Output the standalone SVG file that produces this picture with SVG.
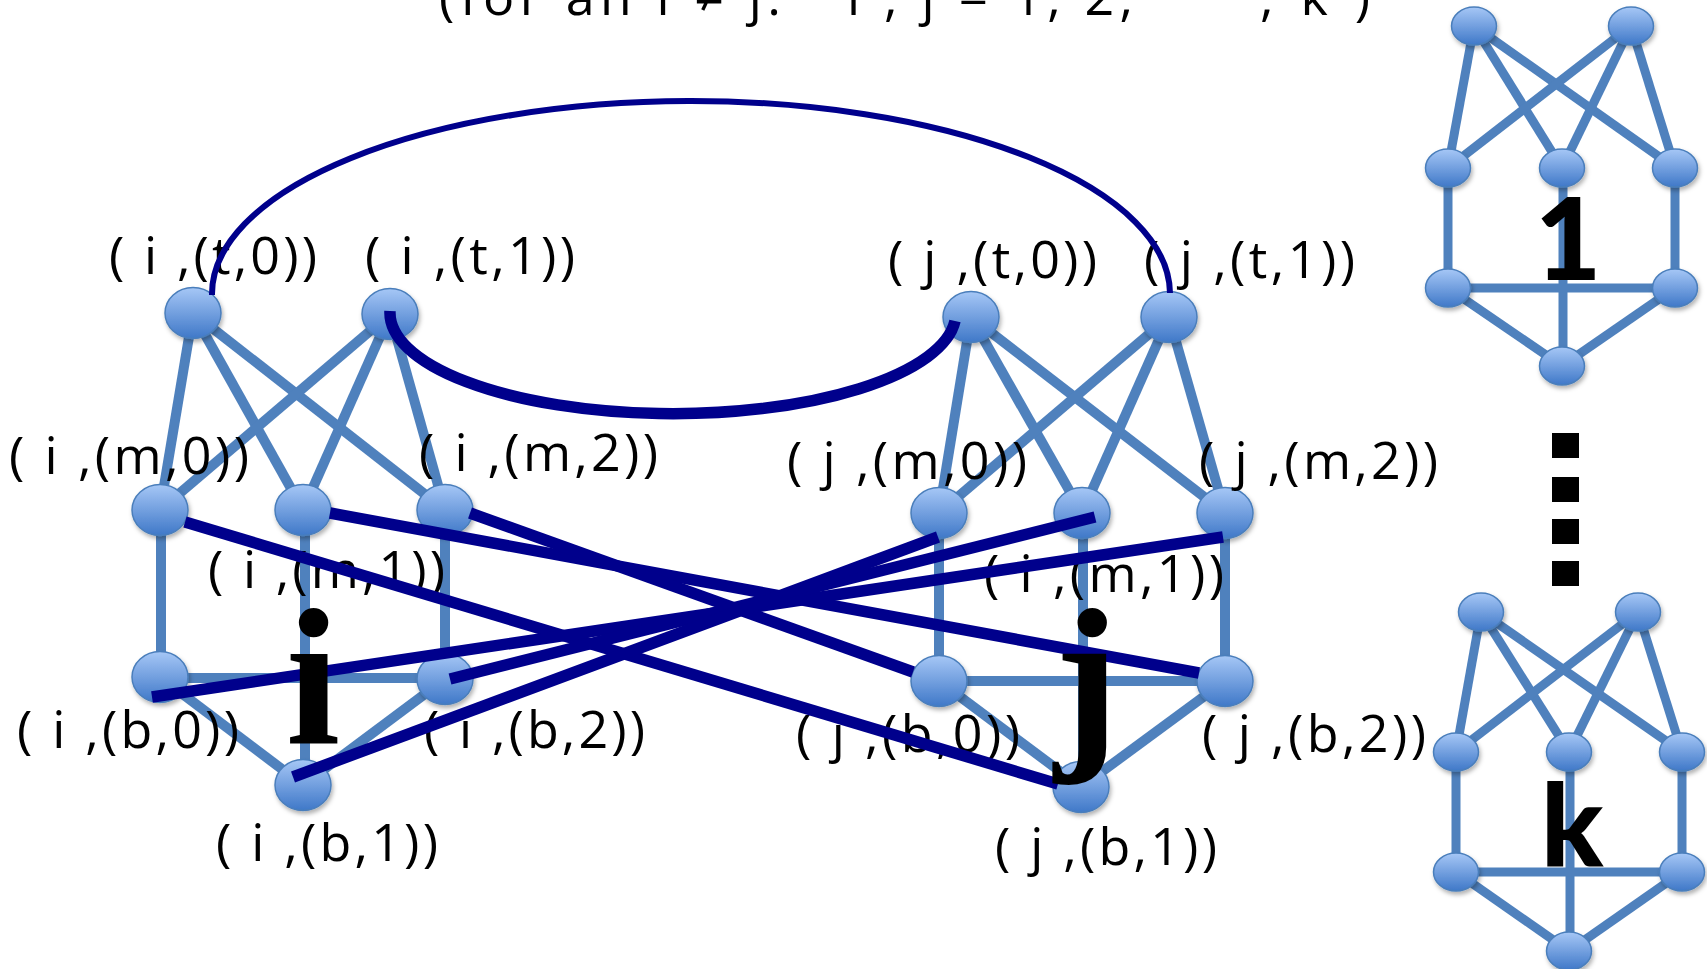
<svg xmlns="http://www.w3.org/2000/svg" width="1707" height="969" viewBox="0 0 1707 969">
<defs>
<linearGradient id="ng" x1="0" y1="0" x2="0" y2="1">
<stop offset="0" stop-color="#A6C7F6"/>
<stop offset="1" stop-color="#3F78C8"/>
</linearGradient>
<filter id="sh" x="-30%" y="-30%" width="160%" height="170%">
<feDropShadow dx="1.5" dy="3" stdDeviation="2" flood-color="#000" flood-opacity="0.3"/>
</filter>
</defs>
<style>
.e{stroke:#4F81BD;stroke-width:10;fill:none}
.es{stroke:#4F81BD;stroke-width:9;fill:none}
.n{fill:url(#ng);stroke:#4A7EBB;stroke-width:1.5;filter:url(#sh)}
.lbl{font-family:"Open Sans","Liberation Sans",sans-serif;font-size:52px;fill:#000}
.ttl{font-family:"Open Sans","DejaVu Sans",sans-serif;font-size:52px;fill:#000}
.d{stroke:#00008C;fill:none;stroke-width:11.5}
.dt{stroke:#00008C;fill:none;stroke-width:6}
.big{font-family:"Liberation Serif",serif;font-weight:bold;font-size:196px;fill:#000}
.bigs{font-family:Lato,"Liberation Sans",sans-serif;font-weight:900;font-size:115px;fill:#000}
</style>
<rect width="1707" height="969" fill="#fff"/>

<g id="title" class="ttl">
<text x="439" y="15" textLength="342">(for all i ≠ j:</text>
<text x="847" y="15" textLength="286">i , j = 1, 2,</text>
<text x="1168" y="2">⋯</text>
<text x="1260" y="15" textLength="110">, k )</text>
</g>

<g id="edges-internal">
<g id="edges-i" class="e">
<line x1="193" y1="313" x2="160" y2="510"/>
<line x1="193" y1="313" x2="303" y2="510"/>
<line x1="193" y1="313" x2="445" y2="510"/>
<line x1="390" y1="314" x2="160" y2="510"/>
<line x1="390" y1="314" x2="303" y2="510"/>
<line x1="390" y1="314" x2="445" y2="510"/>
<line x1="161" y1="510" x2="161" y2="677"/>
<line x1="305" y1="510" x2="305" y2="785"/>
<line x1="445" y1="510" x2="445" y2="679"/>
<line x1="160" y1="678" x2="445" y2="678"/>
<line x1="160" y1="677" x2="303" y2="785"/>
<line x1="445" y1="679" x2="303" y2="785"/>
</g>
<g id="edges-j" class="e">
<line x1="971" y1="317" x2="939" y2="513"/>
<line x1="971" y1="317" x2="1082" y2="513"/>
<line x1="971" y1="317" x2="1225" y2="513"/>
<line x1="1169" y1="317" x2="939" y2="513"/>
<line x1="1169" y1="317" x2="1082" y2="513"/>
<line x1="1169" y1="317" x2="1225" y2="513"/>
<line x1="939" y1="513" x2="939" y2="681"/>
<line x1="1083" y1="513" x2="1083" y2="787"/>
<line x1="1225" y1="513" x2="1225" y2="681"/>
<line x1="939" y1="681" x2="1225" y2="681"/>
<line x1="939" y1="681" x2="1081" y2="787"/>
<line x1="1225" y1="681" x2="1081" y2="787"/>
</g>
<g id="edges-1" class="es">
<line x1="1474" y1="26" x2="1448" y2="168"/>
<line x1="1474" y1="26" x2="1562" y2="168"/>
<line x1="1474" y1="26" x2="1675" y2="168"/>
<line x1="1631" y1="26" x2="1448" y2="168"/>
<line x1="1631" y1="26" x2="1562" y2="168"/>
<line x1="1631" y1="26" x2="1675" y2="168"/>
<line x1="1448" y1="168" x2="1448" y2="288"/>
<line x1="1563" y1="168" x2="1563" y2="366"/>
<line x1="1675" y1="168" x2="1675" y2="288"/>
<line x1="1448" y1="288" x2="1675" y2="288"/>
<line x1="1448" y1="288" x2="1562" y2="366"/>
<line x1="1675" y1="288" x2="1562" y2="366"/>
</g>
<g id="edges-k" class="es">
<line x1="1481" y1="612" x2="1456" y2="752"/>
<line x1="1481" y1="612" x2="1569" y2="752"/>
<line x1="1481" y1="612" x2="1682" y2="752"/>
<line x1="1638" y1="612" x2="1456" y2="752"/>
<line x1="1638" y1="612" x2="1569" y2="752"/>
<line x1="1638" y1="612" x2="1682" y2="752"/>
<line x1="1456" y1="752" x2="1456" y2="872"/>
<line x1="1570" y1="752" x2="1570" y2="951"/>
<line x1="1682" y1="752" x2="1682" y2="872"/>
<line x1="1456" y1="872" x2="1682" y2="872"/>
<line x1="1456" y1="872" x2="1569" y2="951"/>
<line x1="1682" y1="872" x2="1569" y2="951"/>
</g>
</g>

<g id="i_t0"><ellipse class="n" cx="193" cy="313" rx="28" ry="25.5"/><text class="lbl" x="109" y="274" textLength="208">( i ,(t,0))</text></g>
<g id="i_t1"><ellipse class="n" cx="390" cy="314" rx="28" ry="25.5"/><text class="lbl" x="365" y="274" textLength="210">( i ,(t,1))</text></g>
<g id="i_m0"><ellipse class="n" cx="160" cy="510" rx="28" ry="25.5"/><text class="lbl" x="9" y="474" textLength="240">( i ,(m,0))</text></g>
<g id="i_m1"><ellipse class="n" cx="303" cy="510" rx="28" ry="25.5"/><text class="lbl" x="208" y="588" textLength="237">( i ,(m,1))</text></g>
<g id="i_m2"><ellipse class="n" cx="445" cy="510" rx="28" ry="25.5"/><text class="lbl" x="419" y="471" textLength="239">( i ,(m,2))</text></g>
<g id="i_b0"><ellipse class="n" cx="160" cy="677" rx="28" ry="25.5"/><text class="lbl" x="17" y="748" textLength="222">( i ,(b,0))</text></g>
<g id="i_b2"><ellipse class="n" cx="445" cy="679" rx="28" ry="25.5"/><text class="lbl" x="424" y="748" textLength="221">( i ,(b,2))</text></g>
<g id="i_b1"><ellipse class="n" cx="303" cy="785" rx="28" ry="25.5"/><text class="lbl" x="216" y="861" textLength="222">( i ,(b,1))</text></g>

<g id="j_t0"><ellipse class="n" cx="971" cy="317" rx="28" ry="25.5"/><text class="lbl" x="888" y="278" textLength="209">( j ,(t,0))</text></g>
<g id="j_t1"><ellipse class="n" cx="1169" cy="317" rx="28" ry="25.5"/><text class="lbl" x="1144" y="278" textLength="211">( j ,(t,1))</text></g>
<g id="j_m0"><ellipse class="n" cx="939" cy="513" rx="28" ry="25.5"/><text class="lbl" x="787" y="479" textLength="240">( j ,(m,0))</text></g>
<g id="j_m1"><ellipse class="n" cx="1082" cy="513" rx="28" ry="25.5"/><text class="lbl" x="984" y="592" textLength="240">( i ,(m,1))</text></g>
<g id="j_m2"><ellipse class="n" cx="1225" cy="513" rx="28" ry="25.5"/><text class="lbl" x="1199" y="479" textLength="239">( j ,(m,2))</text></g>
<g id="j_b0"><ellipse class="n" cx="939" cy="681" rx="28" ry="25.5"/><text class="lbl" x="796" y="752" textLength="224">( j ,(b,0))</text></g>
<g id="j_b2"><ellipse class="n" cx="1225" cy="681" rx="28" ry="25.5"/><text class="lbl" x="1202" y="752" textLength="224">( j ,(b,2))</text></g>
<g id="j_b1"><ellipse class="n" cx="1081" cy="787" rx="28" ry="25.5"/><text class="lbl" x="995" y="865" textLength="222">( j ,(b,1))</text></g>

<g id="g1_tl"><ellipse class="n" cx="1474" cy="26" rx="22.5" ry="19"/></g>
<g id="g1_tr"><ellipse class="n" cx="1631" cy="26" rx="22.5" ry="19"/></g>
<g id="g1_ml"><ellipse class="n" cx="1448" cy="168" rx="22.5" ry="19"/></g>
<g id="g1_mc"><ellipse class="n" cx="1562" cy="168" rx="22.5" ry="19"/></g>
<g id="g1_mr"><ellipse class="n" cx="1675" cy="168" rx="22.5" ry="19"/></g>
<g id="g1_ll"><ellipse class="n" cx="1448" cy="288" rx="22.5" ry="19"/></g>
<g id="g1_lr"><ellipse class="n" cx="1675" cy="288" rx="22.5" ry="19"/></g>
<g id="g1_b"><ellipse class="n" cx="1562" cy="366" rx="22.5" ry="19"/></g>

<g id="gk_tl"><ellipse class="n" cx="1481" cy="612" rx="22.5" ry="19"/></g>
<g id="gk_tr"><ellipse class="n" cx="1638" cy="612" rx="22.5" ry="19"/></g>
<g id="gk_ml"><ellipse class="n" cx="1456" cy="752" rx="22.5" ry="19"/></g>
<g id="gk_mc"><ellipse class="n" cx="1569" cy="752" rx="22.5" ry="19"/></g>
<g id="gk_mr"><ellipse class="n" cx="1682" cy="752" rx="22.5" ry="19"/></g>
<g id="gk_ll"><ellipse class="n" cx="1456" cy="872" rx="22.5" ry="19"/></g>
<g id="gk_lr"><ellipse class="n" cx="1682" cy="872" rx="22.5" ry="19"/></g>
<g id="gk_b"><ellipse class="n" cx="1569" cy="951" rx="22.5" ry="19"/></g>

<g id="connectors">
<path class="dt" d="M 212 295 A 479 193 0 0 1 1170 293"/>
<path class="d" d="M 390 311 A 283 101 0 0 0 955 321"/>
<line class="d" x1="185" y1="522" x2="1058" y2="784"/>
<line class="d" x1="330" y1="513" x2="1199" y2="673"/>
<line class="d" x1="470" y1="513" x2="913" y2="672"/>
<line class="d" x1="152" y1="697" x2="1223" y2="537"/>
<line class="d" x1="450" y1="679" x2="1095" y2="517"/>
<line class="d" x1="293" y1="777" x2="938" y2="537"/>
</g>

<g id="letters">
<text class="big" x="313" y="743" text-anchor="middle">i</text>
<text class="big" x="1054" y="743">j</text>
<text class="bigs" x="1568" y="280" text-anchor="middle">1</text>
<text class="bigs" x="1572" y="866" text-anchor="middle">k</text>
</g>

<g id="ellipsis" fill="#000">
<rect x="1552" y="433" width="27" height="25"/>
<rect x="1552" y="477" width="27" height="25"/>
<rect x="1552" y="519" width="27" height="25"/>
<rect x="1552" y="561" width="27" height="25"/>
</g>
</svg>
